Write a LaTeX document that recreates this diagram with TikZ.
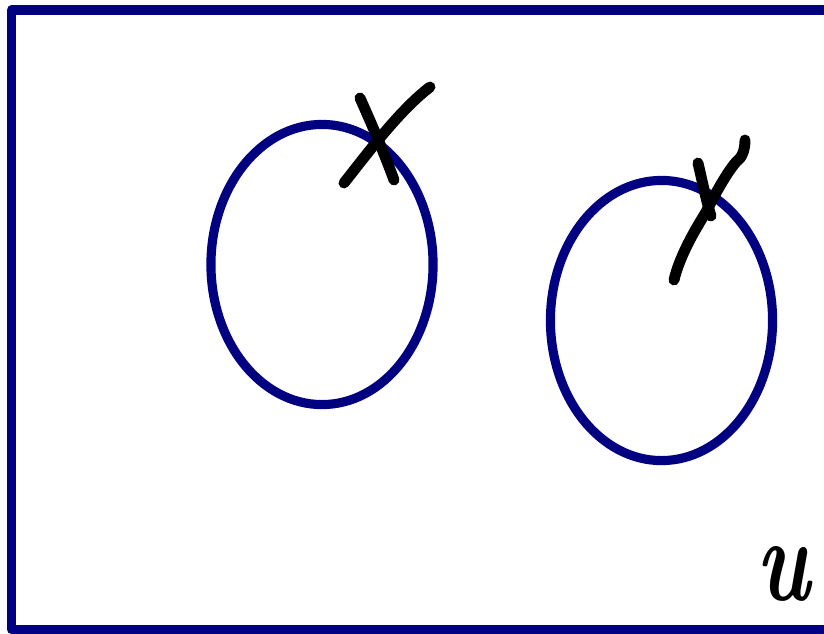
\documentclass[tikz,border=0pt]{standalone}
\usepackage{tikz}
\usetikzlibrary{shapes.geometric}
\definecolor{setnavy}{RGB}{0,0,128}

\begin{document}
\begin{tikzpicture}[x=0.01cm,y=-0.01cm,
    setline/.style={draw=setnavy,line width=2.6pt},
    crossmark/.style={draw=black,line width=3.1pt,line cap=round,line join=round}]
    \clip (0,0) rectangle (824,633);
    % universe
    \draw[setline,line join=round] (11.5,10) rectangle (840,629.5);
    \node[setline,ellipse,minimum width=2.22cm,minimum height=2.80cm,inner sep=0pt] (setA) at (322,264.5) {};
    \node[setline,ellipse,minimum width=2.22cm,minimum height=2.80cm,inner sep=0pt] (setB) at (661.5,320.5) {};
    \node (universe) at (783,574) {\scalebox{0.72}[1]{\fontsize{34}{40}\selectfont\bfseries\itshape u}};
    % crosses
    \draw[crossmark] (360,98) .. controls (372,125) and (383,150) .. (394,180);
    \draw[crossmark] (430,87) .. controls (400,110) and (370,150) .. (344,183);
    \draw[crossmark] (698,163) .. controls (702,180) and (706,200) .. (711,216);
    \draw[crossmark] (745,140) .. controls (745,150) and (742,158) .. (736,162)
        .. controls (725,175) and (712,200) .. (706,212)
        .. controls (695,230) and (680,255) .. (674,280);
\end{tikzpicture}
\end{document}
